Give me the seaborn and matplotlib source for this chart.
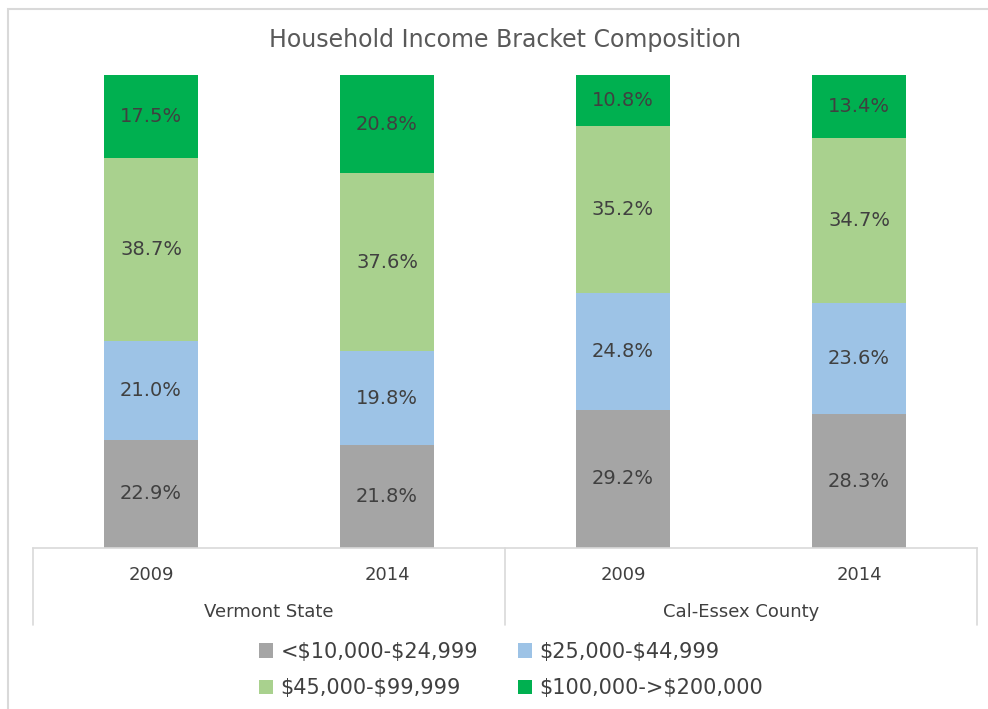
import numpy as np
import pandas as pd
import seaborn as sns
import matplotlib.pyplot as plt
from matplotlib.lines import Line2D
from matplotlib.patches import Patch, Rectangle

# Data
groups = ['Vermont State', 'Cal-Essex County']
years = ['2009', '2014']
brackets = ['<$10,000-$24,999', '$25,000-$44,999', '$45,000-$99,999', '$100,000->$200,000']
low = [22.9, 21.8, 29.2, 28.3]
mid_low = [21.0, 19.8, 24.8, 23.6]
mid_high = [38.7, 37.6, 35.2, 34.7]
high = [17.5, 20.8, 10.8, 13.4]
colors = ['#A5A5A5', '#9DC3E6', '#A9D18E', '#00B050']

sns.set_style('white')
plt.rcParams['font.family'] = ['DejaVu Sans']

cats = [f'{g} {y}' for g in groups for y in years]
vals = np.array([low, mid_low, mid_high, high])
share = vals / vals.sum(axis=0) * 100   # 100% stacked
cum = np.cumsum(share, axis=0)
df = pd.DataFrame({'cat': cats})

fig = plt.figure(figsize=(9.88, 7.09), dpi=100)
W, H = 988, 709
ax = fig.add_axes([33 / W, 1 - 548 / H, 944 / W, (548 - 75) / H])

# draw cumulative totals from the top down so each layer covers the next
for i in range(len(brackets) - 1, -1, -1):
    sns.barplot(x=df['cat'], y=cum[i], color=colors[i], width=0.395,
                saturation=1, ax=ax, edgecolor='none')

for i in range(len(brackets)):
    for j in range(len(cats)):
        ymid = cum[i][j] - share[i][j] / 2
        ax.text(j, ymid, f'{vals[i][j]:.1f}%', ha='center', va='center',
                fontsize=14, color='#404040')

ax.set_ylim(0, 100)
ax.set_xlim(-0.5, 3.5)
ax.set_xlabel('')
ax.set_ylabel('')
ax.set_xticks([])
ax.set_yticks([])
for s in ['top', 'right', 'left']:
    ax.spines[s].set_visible(False)
ax.spines['bottom'].set_color('#D9D9D9')
ax.spines['bottom'].set_linewidth(1.2)

# two-level category axis
tr = ax.get_xaxis_transform()
for j, c in enumerate(cats):
    ax.text(j, -0.058, years[j % 2], transform=tr, ha='center', va='center',
            fontsize=13, color='#404040')
for k, g in enumerate(groups):
    ax.text(2 * k + 0.5, -0.135, g, transform=tr, ha='center', va='center',
            fontsize=13, color='#404040')
for xv in [-0.5, 1.5, 3.5]:
    ax.add_line(Line2D([xv, xv], [0, -0.163], transform=tr, color='#D9D9D9',
                       lw=1.2, clip_on=False))

fig.text(505 / W, 1 - 40 / H, 'Household Income Bracket Composition',
         ha='center', va='center', fontsize=17, color='#595959')

# legend filled row by row like the original
order = [0, 2, 1, 3]
handles = [Patch(facecolor=colors[i], edgecolor='none') for i in order]
labels = [brackets[i].replace('$', r'\$') for i in order]
fig.legend(handles, labels, loc='center', bbox_to_anchor=(511 / W, 1 - 670 / H),
           ncol=2, frameon=False, fontsize=15, handlelength=0.7, handleheight=0.7,
           handletextpad=0.35, columnspacing=1.9, labelspacing=0.8,
           labelcolor='#404040')

# chart border
fig.add_artist(Rectangle((8 / W, -0.01), 1.05, 1 - 9 / H + 0.01, transform=fig.transFigure,
                         fill=False, edgecolor='#D9D9D9', lw=1.5))

fig.savefig('out.png', dpi=100)
